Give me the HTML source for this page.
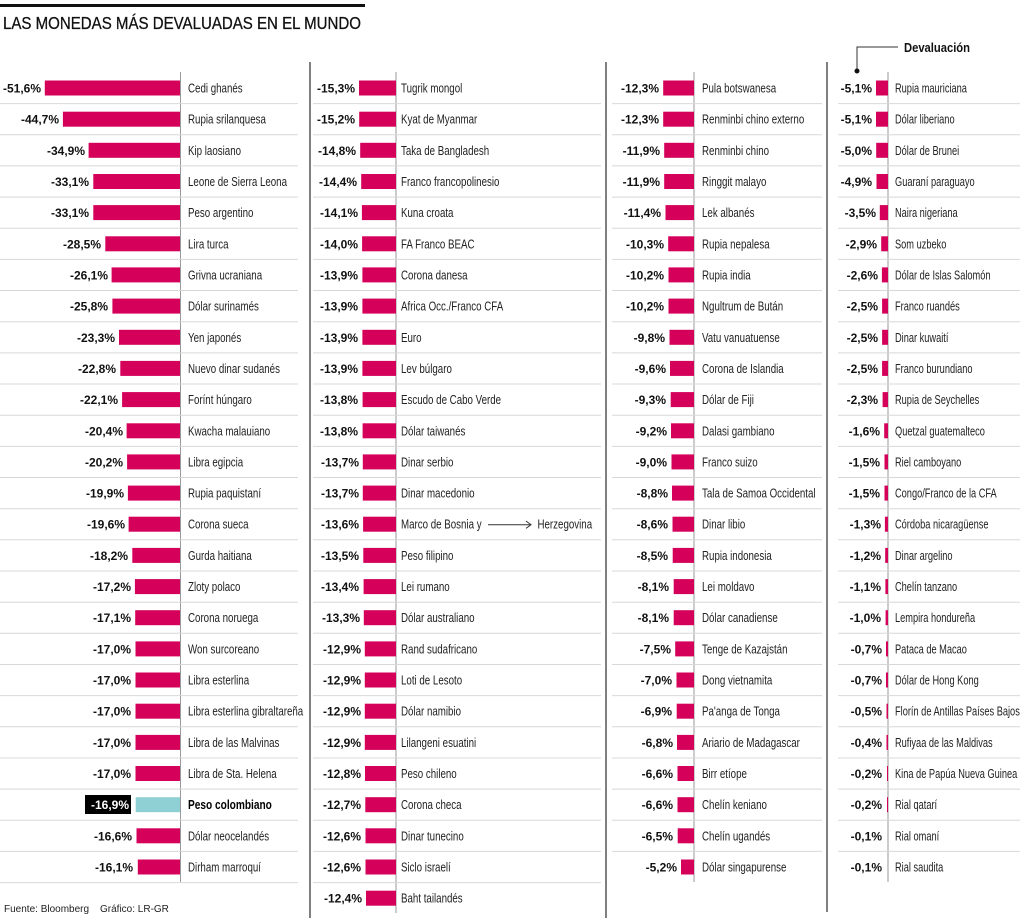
<!DOCTYPE html>
<html><head><meta charset="utf-8"><style>
html,body{margin:0;padding:0;background:#fff;}
svg{display:block;}
.v{font-family:"Liberation Sans",sans-serif;font-weight:bold;font-size:12px;fill:#111;text-anchor:end;}
.n{font-family:"Liberation Sans",sans-serif;font-size:12.5px;fill:#222;}
.b{fill:#d4005a;}
.s{stroke:#d8d8d8;stroke-width:1;}
</style></head><body>
<svg width="1024" height="918" viewBox="0 0 1024 918" xmlns="http://www.w3.org/2000/svg">
<rect x="0" y="4" width="365" height="3" fill="#111"/>
<text x="3" y="29" style="font-family:'Liberation Sans',sans-serif;font-size:17.5px;fill:#111;stroke:#111;stroke-width:0.3" textLength="358" lengthAdjust="spacingAndGlyphs">LAS MONEDAS MÁS DEVALUADAS EN EL MUNDO</text>
<line x1="310" y1="62" x2="310" y2="918" stroke="#555" stroke-width="1.5"/>
<line x1="606" y1="62" x2="606" y2="918" stroke="#555" stroke-width="1.5"/>
<line x1="827" y1="62" x2="827" y2="912" stroke="#555" stroke-width="1.5"/>
<line x1="180.5" y1="72" x2="180.5" y2="882" stroke="#999"/>
<line x1="396" y1="72" x2="396" y2="913" stroke="#999"/>
<line x1="694" y1="72" x2="694" y2="882" stroke="#999"/>
<line x1="888" y1="72" x2="888" y2="882" stroke="#999"/>
<text x="904" y="52" style="font-family:'Liberation Sans',sans-serif;font-weight:bold;font-size:12.5px;fill:#111" textLength="66" lengthAdjust="spacingAndGlyphs">Devaluación</text>
<polyline points="898,47 857,47 857,70" fill="none" stroke="#333"/>
<circle cx="857" cy="71" r="2.5" fill="#111"/>
<g class="s">
<line x1="0" y1="103.6" x2="298" y2="103.6"/><line x1="0" y1="134.8" x2="298" y2="134.8"/><line x1="0" y1="165.9" x2="298" y2="165.9"/><line x1="0" y1="197.1" x2="298" y2="197.1"/><line x1="0" y1="228.2" x2="298" y2="228.2"/><line x1="0" y1="259.4" x2="298" y2="259.4"/><line x1="0" y1="290.5" x2="298" y2="290.5"/><line x1="0" y1="321.7" x2="298" y2="321.7"/><line x1="0" y1="352.9" x2="298" y2="352.9"/><line x1="0" y1="384" x2="298" y2="384"/><line x1="0" y1="415.2" x2="298" y2="415.2"/><line x1="0" y1="446.4" x2="298" y2="446.4"/><line x1="0" y1="477.5" x2="298" y2="477.5"/><line x1="0" y1="508.7" x2="298" y2="508.7"/><line x1="0" y1="539.8" x2="298" y2="539.8"/><line x1="0" y1="571" x2="298" y2="571"/><line x1="0" y1="602.2" x2="298" y2="602.2"/><line x1="0" y1="633.3" x2="298" y2="633.3"/><line x1="0" y1="664.5" x2="298" y2="664.5"/><line x1="0" y1="695.6" x2="298" y2="695.6"/><line x1="0" y1="726.8" x2="298" y2="726.8"/><line x1="0" y1="758" x2="298" y2="758"/><line x1="0" y1="789.1" x2="298" y2="789.1"/><line x1="0" y1="820.3" x2="298" y2="820.3"/><line x1="0" y1="851.4" x2="298" y2="851.4"/><line x1="0" y1="882.6" x2="298" y2="882.6"/>
</g>
<g class="s" transform="translate(313,0)">
<line x1="0" y1="103.6" x2="288" y2="103.6"/><line x1="0" y1="134.8" x2="288" y2="134.8"/><line x1="0" y1="165.9" x2="288" y2="165.9"/><line x1="0" y1="197.1" x2="288" y2="197.1"/><line x1="0" y1="228.2" x2="288" y2="228.2"/><line x1="0" y1="259.4" x2="288" y2="259.4"/><line x1="0" y1="290.5" x2="288" y2="290.5"/><line x1="0" y1="321.7" x2="288" y2="321.7"/><line x1="0" y1="352.9" x2="288" y2="352.9"/><line x1="0" y1="384" x2="288" y2="384"/><line x1="0" y1="415.2" x2="288" y2="415.2"/><line x1="0" y1="446.4" x2="288" y2="446.4"/><line x1="0" y1="477.5" x2="288" y2="477.5"/><line x1="0" y1="508.7" x2="288" y2="508.7"/><line x1="0" y1="539.8" x2="288" y2="539.8"/><line x1="0" y1="571" x2="288" y2="571"/><line x1="0" y1="602.2" x2="288" y2="602.2"/><line x1="0" y1="633.3" x2="288" y2="633.3"/><line x1="0" y1="664.5" x2="288" y2="664.5"/><line x1="0" y1="695.6" x2="288" y2="695.6"/><line x1="0" y1="726.8" x2="288" y2="726.8"/><line x1="0" y1="758" x2="288" y2="758"/><line x1="0" y1="789.1" x2="288" y2="789.1"/><line x1="0" y1="820.3" x2="288" y2="820.3"/><line x1="0" y1="851.4" x2="288" y2="851.4"/><line x1="0" y1="882.6" x2="288" y2="882.6"/>
</g>
<g class="s" transform="translate(612,0)">
<line x1="0" y1="103.6" x2="210" y2="103.6"/><line x1="0" y1="134.8" x2="210" y2="134.8"/><line x1="0" y1="165.9" x2="210" y2="165.9"/><line x1="0" y1="197.1" x2="210" y2="197.1"/><line x1="0" y1="228.2" x2="210" y2="228.2"/><line x1="0" y1="259.4" x2="210" y2="259.4"/><line x1="0" y1="290.5" x2="210" y2="290.5"/><line x1="0" y1="321.7" x2="210" y2="321.7"/><line x1="0" y1="352.9" x2="210" y2="352.9"/><line x1="0" y1="384" x2="210" y2="384"/><line x1="0" y1="415.2" x2="210" y2="415.2"/><line x1="0" y1="446.4" x2="210" y2="446.4"/><line x1="0" y1="477.5" x2="210" y2="477.5"/><line x1="0" y1="508.7" x2="210" y2="508.7"/><line x1="0" y1="539.8" x2="210" y2="539.8"/><line x1="0" y1="571" x2="210" y2="571"/><line x1="0" y1="602.2" x2="210" y2="602.2"/><line x1="0" y1="633.3" x2="210" y2="633.3"/><line x1="0" y1="664.5" x2="210" y2="664.5"/><line x1="0" y1="695.6" x2="210" y2="695.6"/><line x1="0" y1="726.8" x2="210" y2="726.8"/><line x1="0" y1="758" x2="210" y2="758"/><line x1="0" y1="789.1" x2="210" y2="789.1"/><line x1="0" y1="820.3" x2="210" y2="820.3"/><line x1="0" y1="851.4" x2="210" y2="851.4"/>
</g>
<g class="s" transform="translate(838,0)">
<line x1="0" y1="103.6" x2="182" y2="103.6"/><line x1="0" y1="134.8" x2="182" y2="134.8"/><line x1="0" y1="165.9" x2="182" y2="165.9"/><line x1="0" y1="197.1" x2="182" y2="197.1"/><line x1="0" y1="228.2" x2="182" y2="228.2"/><line x1="0" y1="259.4" x2="182" y2="259.4"/><line x1="0" y1="290.5" x2="182" y2="290.5"/><line x1="0" y1="321.7" x2="182" y2="321.7"/><line x1="0" y1="352.9" x2="182" y2="352.9"/><line x1="0" y1="384" x2="182" y2="384"/><line x1="0" y1="415.2" x2="182" y2="415.2"/><line x1="0" y1="446.4" x2="182" y2="446.4"/><line x1="0" y1="477.5" x2="182" y2="477.5"/><line x1="0" y1="508.7" x2="182" y2="508.7"/><line x1="0" y1="539.8" x2="182" y2="539.8"/><line x1="0" y1="571" x2="182" y2="571"/><line x1="0" y1="602.2" x2="182" y2="602.2"/><line x1="0" y1="633.3" x2="182" y2="633.3"/><line x1="0" y1="664.5" x2="182" y2="664.5"/><line x1="0" y1="695.6" x2="182" y2="695.6"/><line x1="0" y1="726.8" x2="182" y2="726.8"/><line x1="0" y1="758" x2="182" y2="758"/><line x1="0" y1="789.1" x2="182" y2="789.1"/><line x1="0" y1="820.3" x2="182" y2="820.3"/><line x1="0" y1="851.4" x2="182" y2="851.4"/>
</g>

<g class="b">
<rect x="44.8" y="80.5" width="135.2" height="15"/>
<rect x="62.9" y="111.7" width="117.1" height="15"/>
<rect x="88.6" y="142.8" width="91.4" height="15"/>
<rect x="93.3" y="174" width="86.7" height="15"/>
<rect x="93.3" y="205.1" width="86.7" height="15"/>
<rect x="105.3" y="236.3" width="74.7" height="15"/>
<rect x="111.6" y="267.4" width="68.4" height="15"/>
<rect x="112.4" y="298.6" width="67.6" height="15"/>
<rect x="119" y="329.8" width="61" height="15"/>
<rect x="120.3" y="360.9" width="59.7" height="15"/>
<rect x="122.1" y="392.1" width="57.9" height="15"/>
<rect x="126.6" y="423.3" width="53.4" height="15"/>
<rect x="127.1" y="454.4" width="52.9" height="15"/>
<rect x="127.9" y="485.6" width="52.1" height="15"/>
<rect x="128.6" y="516.7" width="51.4" height="15"/>
<rect x="132.3" y="547.9" width="47.7" height="15"/>
<rect x="134.9" y="579.1" width="45.1" height="15"/>
<rect x="135.2" y="610.2" width="44.8" height="15"/>
<rect x="135.5" y="641.4" width="44.5" height="15"/>
<rect x="135.5" y="672.5" width="44.5" height="15"/>
<rect x="135.5" y="703.7" width="44.5" height="15"/>
<rect x="135.5" y="734.9" width="44.5" height="15"/>
<rect x="135.5" y="766" width="44.5" height="15"/>
<rect x="136.5" y="828.3" width="43.5" height="15"/>
<rect x="137.8" y="859.5" width="42.2" height="15"/>
</g>
<rect x="135.7" y="797.2" width="44.3" height="15" fill="#8fd0d4"/>
<rect x="85" y="795" width="46" height="19" fill="#000"/>
<g class="v">
<text x="41" y="92.5">-51,6%</text>
<text x="59" y="123.7">-44,7%</text>
<text x="85" y="154.8">-34,9%</text>
<text x="89" y="186">-33,1%</text>
<text x="89" y="217.1">-33,1%</text>
<text x="101" y="248.3">-28,5%</text>
<text x="108" y="279.4">-26,1%</text>
<text x="108" y="310.6">-25,8%</text>
<text x="115" y="341.8">-23,3%</text>
<text x="116" y="372.9">-22,8%</text>
<text x="118" y="404.1">-22,1%</text>
<text x="123" y="435.3">-20,4%</text>
<text x="123" y="466.4">-20,2%</text>
<text x="124" y="497.6">-19,9%</text>
<text x="125" y="528.7">-19,6%</text>
<text x="128" y="559.9">-18,2%</text>
<text x="131" y="591.1">-17,2%</text>
<text x="131" y="622.2">-17,1%</text>
<text x="131" y="653.4">-17,0%</text>
<text x="131" y="684.5">-17,0%</text>
<text x="131" y="715.7">-17,0%</text>
<text x="131" y="746.9">-17,0%</text>
<text x="131" y="778">-17,0%</text>
<text x="129" y="809.2" style="fill:#fff">-16,9%</text>
<text x="132" y="840.3">-16,6%</text>
<text x="133" y="871.5">-16,1%</text>
</g>
<g transform="translate(188,0) scale(0.78,1)">
<g class="n">
<text x="0" y="92.5">Cedi ghanés</text>
<text x="0" y="123.7">Rupia srilanquesa</text>
<text x="0" y="154.8">Kip laosiano</text>
<text x="0" y="186">Leone de Sierra Leona</text>
<text x="0" y="217.1">Peso argentino</text>
<text x="0" y="248.3">Lira turca</text>
<text x="0" y="279.4">Grivna ucraniana</text>
<text x="0" y="310.6">Dólar surinamés</text>
<text x="0" y="341.8">Yen japonés</text>
<text x="0" y="372.9">Nuevo dinar sudanés</text>
<text x="0" y="404.1">Forínt húngaro</text>
<text x="0" y="435.3">Kwacha malauiano</text>
<text x="0" y="466.4">Libra egipcia</text>
<text x="0" y="497.6">Rupia paquistaní</text>
<text x="0" y="528.7">Corona sueca</text>
<text x="0" y="559.9">Gurda haitiana</text>
<text x="0" y="591.1">Zloty polaco</text>
<text x="0" y="622.2">Corona noruega</text>
<text x="0" y="653.4">Won surcoreano</text>
<text x="0" y="684.5">Libra esterlina</text>
<text x="0" y="715.7">Libra esterlina gibraltareña</text>
<text x="0" y="746.9">Libra de las Malvinas</text>
<text x="0" y="778">Libra de Sta. Helena</text>
<text x="0" y="809.2" style="font-weight:bold;fill:#000;font-size:13px">Peso colombiano</text>
<text x="0" y="840.3">Dólar neocelandés</text>
<text x="0" y="871.5">Dirham marroquí</text>
</g></g>

<g class="b">
<rect x="359" y="80.5" width="37" height="15"/>
<rect x="359.2" y="111.7" width="36.8" height="15"/>
<rect x="360.2" y="142.8" width="35.8" height="15"/>
<rect x="361.2" y="174" width="34.8" height="15"/>
<rect x="361.9" y="205.1" width="34.1" height="15"/>
<rect x="362.1" y="236.3" width="33.9" height="15"/>
<rect x="362.4" y="267.4" width="33.6" height="15"/>
<rect x="362.4" y="298.6" width="33.6" height="15"/>
<rect x="362.4" y="329.8" width="33.6" height="15"/>
<rect x="362.4" y="360.9" width="33.6" height="15"/>
<rect x="362.6" y="392.1" width="33.4" height="15"/>
<rect x="362.6" y="423.3" width="33.4" height="15"/>
<rect x="362.8" y="454.4" width="33.2" height="15"/>
<rect x="362.8" y="485.6" width="33.2" height="15"/>
<rect x="363.1" y="516.7" width="32.9" height="15"/>
<rect x="363.3" y="547.9" width="32.7" height="15"/>
<rect x="363.6" y="579.1" width="32.4" height="15"/>
<rect x="363.8" y="610.2" width="32.2" height="15"/>
<rect x="364.8" y="641.4" width="31.2" height="15"/>
<rect x="364.8" y="672.5" width="31.2" height="15"/>
<rect x="364.8" y="703.7" width="31.2" height="15"/>
<rect x="364.8" y="734.9" width="31.2" height="15"/>
<rect x="365" y="766" width="31" height="15"/>
<rect x="365.3" y="797.2" width="30.7" height="15"/>
<rect x="365.5" y="828.3" width="30.5" height="15"/>
<rect x="365.5" y="859.5" width="30.5" height="15"/>
<rect x="366" y="890.7" width="30" height="15"/>
</g>
<g class="v">
<text x="355" y="92.5">-15,3%</text>
<text x="355" y="123.7">-15,2%</text>
<text x="356" y="154.8">-14,8%</text>
<text x="357" y="186">-14,4%</text>
<text x="358" y="217.1">-14,1%</text>
<text x="358" y="248.3">-14,0%</text>
<text x="358" y="279.4">-13,9%</text>
<text x="358" y="310.6">-13,9%</text>
<text x="358" y="341.8">-13,9%</text>
<text x="358" y="372.9">-13,9%</text>
<text x="358" y="404.1">-13,8%</text>
<text x="358" y="435.3">-13,8%</text>
<text x="359" y="466.4">-13,7%</text>
<text x="359" y="497.6">-13,7%</text>
<text x="359" y="528.7">-13,6%</text>
<text x="359" y="559.9">-13,5%</text>
<text x="359" y="591.1">-13,4%</text>
<text x="360" y="622.2">-13,3%</text>
<text x="361" y="653.4">-12,9%</text>
<text x="361" y="684.5">-12,9%</text>
<text x="361" y="715.7">-12,9%</text>
<text x="361" y="746.9">-12,9%</text>
<text x="361" y="778">-12,8%</text>
<text x="361" y="809.2">-12,7%</text>
<text x="361" y="840.3">-12,6%</text>
<text x="361" y="871.5">-12,6%</text>
<text x="362" y="902.7">-12,4%</text>
</g>
<g transform="translate(401,0) scale(0.78,1)">
<g class="n">
<text x="0" y="92.5">Tugrik mongol</text>
<text x="0" y="123.7">Kyat de Myanmar</text>
<text x="0" y="154.8">Taka de Bangladesh</text>
<text x="0" y="186">Franco francopolinesio</text>
<text x="0" y="217.1">Kuna croata</text>
<text x="0" y="248.3">FA Franco BEAC</text>
<text x="0" y="279.4">Corona danesa</text>
<text x="0" y="310.6">Africa Occ./Franco CFA</text>
<text x="0" y="341.8">Euro</text>
<text x="0" y="372.9">Lev búlgaro</text>
<text x="0" y="404.1">Escudo de Cabo Verde</text>
<text x="0" y="435.3">Dólar taiwanés</text>
<text x="0" y="466.4">Dinar serbio</text>
<text x="0" y="497.6">Dinar macedonio</text>
<text x="0" y="528.7">Marco de Bosnia y</text>
<text x="175" y="528.7">Herzegovina</text>
<text x="0" y="559.9">Peso filipino</text>
<text x="0" y="591.1">Lei rumano</text>
<text x="0" y="622.2">Dólar australiano</text>
<text x="0" y="653.4">Rand sudafricano</text>
<text x="0" y="684.5">Loti de Lesoto</text>
<text x="0" y="715.7">Dólar namibio</text>
<text x="0" y="746.9">Lilangeni esuatini</text>
<text x="0" y="778">Peso chileno</text>
<text x="0" y="809.2">Corona checa</text>
<text x="0" y="840.3">Dinar tunecino</text>
<text x="0" y="871.5">Siclo israelí</text>
<text x="0" y="902.7">Baht tailandés</text>
</g></g>
<line x1="488" y1="524.7" x2="531" y2="524.7" stroke="#333"/>
<polyline points="526,521 531,524.7 526,528.4" fill="none" stroke="#333"/>

<g class="b">
<rect x="663.2" y="80.5" width="30.8" height="15"/>
<rect x="663.2" y="111.7" width="30.8" height="15"/>
<rect x="664.2" y="142.8" width="29.8" height="15"/>
<rect x="664.2" y="174" width="29.8" height="15"/>
<rect x="665.5" y="205.1" width="28.5" height="15"/>
<rect x="668.2" y="236.3" width="25.8" height="15"/>
<rect x="668.5" y="267.4" width="25.5" height="15"/>
<rect x="668.5" y="298.6" width="25.5" height="15"/>
<rect x="669.5" y="329.8" width="24.5" height="15"/>
<rect x="670" y="360.9" width="24" height="15"/>
<rect x="670.7" y="392.1" width="23.3" height="15"/>
<rect x="671" y="423.3" width="23" height="15"/>
<rect x="671.5" y="454.4" width="22.5" height="15"/>
<rect x="672" y="485.6" width="22" height="15"/>
<rect x="672.5" y="516.7" width="21.5" height="15"/>
<rect x="672.7" y="547.9" width="21.3" height="15"/>
<rect x="673.7" y="579.1" width="20.3" height="15"/>
<rect x="673.7" y="610.2" width="20.3" height="15"/>
<rect x="675.2" y="641.4" width="18.8" height="15"/>
<rect x="676.5" y="672.5" width="17.5" height="15"/>
<rect x="676.7" y="703.7" width="17.3" height="15"/>
<rect x="677" y="734.9" width="17" height="15"/>
<rect x="677.5" y="766" width="16.5" height="15"/>
<rect x="677.5" y="797.2" width="16.5" height="15"/>
<rect x="677.7" y="828.3" width="16.3" height="15"/>
<rect x="681" y="859.5" width="13" height="15"/>
</g>
<g class="v">
<text x="659" y="92.5">-12,3%</text>
<text x="659" y="123.7">-12,3%</text>
<text x="660" y="154.8">-11,9%</text>
<text x="660" y="186">-11,9%</text>
<text x="661" y="217.1">-11,4%</text>
<text x="664" y="248.3">-10,3%</text>
<text x="664" y="279.4">-10,2%</text>
<text x="664" y="310.6">-10,2%</text>
<text x="665" y="341.8">-9,8%</text>
<text x="666" y="372.9">-9,6%</text>
<text x="666" y="404.1">-9,3%</text>
<text x="667" y="435.3">-9,2%</text>
<text x="667" y="466.4">-9,0%</text>
<text x="668" y="497.6">-8,8%</text>
<text x="668" y="528.7">-8,6%</text>
<text x="668" y="559.9">-8,5%</text>
<text x="669" y="591.1">-8,1%</text>
<text x="669" y="622.2">-8,1%</text>
<text x="671" y="653.4">-7,5%</text>
<text x="672" y="684.5">-7,0%</text>
<text x="672" y="715.7">-6,9%</text>
<text x="673" y="746.9">-6,8%</text>
<text x="673" y="778">-6,6%</text>
<text x="673" y="809.2">-6,6%</text>
<text x="673" y="840.3">-6,5%</text>
<text x="677" y="871.5">-5,2%</text>
</g>
<g transform="translate(702,0) scale(0.78,1)">
<g class="n">
<text x="0" y="92.5">Pula botswanesa</text>
<text x="0" y="123.7">Renminbi chino externo</text>
<text x="0" y="154.8">Renminbi chino</text>
<text x="0" y="186">Ringgit malayo</text>
<text x="0" y="217.1">Lek albanés</text>
<text x="0" y="248.3">Rupia nepalesa</text>
<text x="0" y="279.4">Rupia india</text>
<text x="0" y="310.6">Ngultrum de Bután</text>
<text x="0" y="341.8">Vatu vanuatuense</text>
<text x="0" y="372.9">Corona de Islandia</text>
<text x="0" y="404.1">Dólar de Fiji</text>
<text x="0" y="435.3">Dalasi gambiano</text>
<text x="0" y="466.4">Franco suizo</text>
<text x="0" y="497.6">Tala de Samoa Occidental</text>
<text x="0" y="528.7">Dinar libio</text>
<text x="0" y="559.9">Rupia indonesia</text>
<text x="0" y="591.1">Lei moldavo</text>
<text x="0" y="622.2">Dólar canadiense</text>
<text x="0" y="653.4">Tenge de Kazajstán</text>
<text x="0" y="684.5">Dong vietnamita</text>
<text x="0" y="715.7">Pa'anga de Tonga</text>
<text x="0" y="746.9">Ariario de Madagascar</text>
<text x="0" y="778">Birr etíope</text>
<text x="0" y="809.2">Chelín keniano</text>
<text x="0" y="840.3">Chelín ugandés</text>
<text x="0" y="871.5">Dólar singapurense</text>
</g></g>

<g class="b">
<rect x="876" y="80.5" width="12" height="15"/>
<rect x="876" y="111.7" width="12" height="15"/>
<rect x="876.2" y="142.8" width="11.8" height="15"/>
<rect x="876.5" y="174" width="11.5" height="15"/>
<rect x="879.8" y="205.1" width="8.2" height="15"/>
<rect x="881.2" y="236.3" width="6.8" height="15"/>
<rect x="881.9" y="267.4" width="6.1" height="15"/>
<rect x="882.1" y="298.6" width="5.9" height="15"/>
<rect x="882.1" y="329.8" width="5.9" height="15"/>
<rect x="882.1" y="360.9" width="5.9" height="15"/>
<rect x="882.6" y="392.1" width="5.4" height="15"/>
<rect x="884.2" y="423.3" width="3.8" height="15"/>
<rect x="884.5" y="454.4" width="3.5" height="15"/>
<rect x="884.5" y="485.6" width="3.5" height="15"/>
<rect x="884.9" y="516.7" width="3.1" height="15"/>
<rect x="885.2" y="547.9" width="2.8" height="15"/>
<rect x="885.4" y="579.1" width="2.6" height="15"/>
<rect x="885.6" y="610.2" width="2.4" height="15"/>
<rect x="886" y="641.4" width="2" height="15"/>
<rect x="886" y="672.5" width="2" height="15"/>
<rect x="886.5" y="703.7" width="1.5" height="15"/>
<rect x="886.5" y="734.9" width="1.5" height="15"/>
<rect x="887" y="766" width="1" height="15"/>
<rect x="887" y="797.2" width="1" height="15"/>
</g>
<g class="v">
<text x="872" y="92.5">-5,1%</text>
<text x="872" y="123.7">-5,1%</text>
<text x="872" y="154.8">-5,0%</text>
<text x="872" y="186">-4,9%</text>
<text x="876" y="217.1">-3,5%</text>
<text x="877" y="248.3">-2,9%</text>
<text x="878" y="279.4">-2,6%</text>
<text x="878" y="310.6">-2,5%</text>
<text x="878" y="341.8">-2,5%</text>
<text x="878" y="372.9">-2,5%</text>
<text x="878" y="404.1">-2,3%</text>
<text x="880" y="435.3">-1,6%</text>
<text x="880" y="466.4">-1,5%</text>
<text x="880" y="497.6">-1,5%</text>
<text x="881" y="528.7">-1,3%</text>
<text x="881" y="559.9">-1,2%</text>
<text x="881" y="591.1">-1,1%</text>
<text x="881" y="622.2">-1,0%</text>
<text x="882" y="653.4">-0,7%</text>
<text x="882" y="684.5">-0,7%</text>
<text x="882" y="715.7">-0,5%</text>
<text x="882" y="746.9">-0,4%</text>
<text x="882" y="778">-0,2%</text>
<text x="882" y="809.2">-0,2%</text>
<text x="882" y="840.3">-0,1%</text>
<text x="882" y="871.5">-0,1%</text>
</g>
<g transform="translate(895,0) scale(0.74,1)">
<g class="n">
<text x="0" y="92.5">Rupia mauriciana</text>
<text x="0" y="123.7">Dólar liberiano</text>
<text x="0" y="154.8">Dólar de Brunei</text>
<text x="0" y="186">Guaraní paraguayo</text>
<text x="0" y="217.1">Naira nigeriana</text>
<text x="0" y="248.3">Som uzbeko</text>
<text x="0" y="279.4">Dólar de Islas Salomón</text>
<text x="0" y="310.6">Franco ruandés</text>
<text x="0" y="341.8">Dinar kuwaití</text>
<text x="0" y="372.9">Franco burundiano</text>
<text x="0" y="404.1">Rupia de Seychelles</text>
<text x="0" y="435.3">Quetzal guatemalteco</text>
<text x="0" y="466.4">Riel camboyano</text>
<text x="0" y="497.6">Congo/Franco de la CFA</text>
<text x="0" y="528.7">Córdoba nicaragüense</text>
<text x="0" y="559.9">Dinar argelino</text>
<text x="0" y="591.1">Chelín tanzano</text>
<text x="0" y="622.2">Lempira hondureña</text>
<text x="0" y="653.4">Pataca de Macao</text>
<text x="0" y="684.5">Dólar de Hong Kong</text>
<text x="0" y="715.7">Florín de Antillas Países Bajos</text>
<text x="0" y="746.9">Rufiyaa de las Maldivas</text>
<text x="0" y="778">Kina de Papúa Nueva Guinea</text>
<text x="0" y="809.2">Rial qatarí</text>
<text x="0" y="840.3">Rial omaní</text>
<text x="0" y="871.5">Rial saudita</text>
</g></g>

<text x="4" y="912" style="font-family:'Liberation Sans',sans-serif;font-size:10px;fill:#222">Fuente: Bloomberg</text>
<text x="100" y="912" style="font-family:'Liberation Sans',sans-serif;font-size:10px;fill:#222">Gráfico: LR-GR</text>
</svg>
</body></html>
